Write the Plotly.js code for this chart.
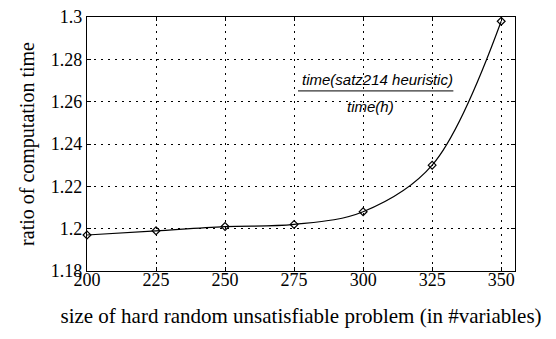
<!DOCTYPE html>
<html>
<head>
<meta charset="utf-8">
<script src="https://cdn.plot.ly/plotly-3.0.1.min.js"></script>
<style>
html,body{margin:0;padding:0;background:#fff;}
#chart{width:556px;height:339px;}
</style>
</head>
<body>
<div id="chart"></div>
<script>
const problemSize = [200, 225, 250, 275, 300, 325, 350];
const timeRatio = [1.197, 1.199, 1.201, 1.202, 1.208, 1.230, 1.298];
const xTicks = [200, 225, 250, 275, 300, 325, 350];
const yTicks = [1.18, 1.2, 1.22, 1.24, 1.26, 1.28, 1.3];
const yTickLabels = ['1.18', '1.2', '1.22', '1.24', '1.26', '1.28', '1.3'];

const serif = 'Times New Roman';
const sans = 'Arial';
const trace = {
  x: problemSize, y: timeRatio, type: 'scatter', mode: 'lines+markers',
  line: {color: '#000', width: 1.2, shape: 'spline', smoothing: 1},
  marker: {symbol: 'diamond-open', size: 6, color: '#000', line: {width: 1.2, color: '#000'}},
  showlegend: false, cliponaxis: false
};
function axisCommon() {
  return {
    showline: true, linecolor: '#000', linewidth: 1.2, mirror: 'ticks',
    ticks: 'inside', ticklen: 4, tickcolor: '#000', tickwidth: 1,
    showgrid: true, gridcolor: '#000', griddash: '1.5px,5.5px', gridwidth: 1,
    zeroline: false, automargin: false,
    tickfont: {family: 'Liberation Serif', size: 18, color: '#000'}
  };
}
const layout = {
  width: 556, height: 339,
  margin: {l: 87, r: 41, t: 17, b: 68},
  paper_bgcolor: '#fff', plot_bgcolor: '#fff',
  font: {family: serif, color: '#000'},
  xaxis: Object.assign(axisCommon(), {
    range: [200, 355], tickvals: xTicks, ticktext: xTicks.map(String), ticklabelstandoff: -8,
    title: {text: 'size of hard random unsatisfiable problem (in #variables)', font: {family: serif, size: 21, color: '#000'}, standoff: 19}
  }),
  yaxis: Object.assign(axisCommon(), {
    range: [1.18, 1.3], tickvals: yTicks, ticktext: yTickLabels,
    title: {text: 'ratio of computation time', font: {family: serif, size: 20, color: '#000'}, standoff: 10}
  }),
  shapes: [{type: 'line', xref: 'paper', yref: 'paper', x0: 0.493, x1: 0.856, y0: 0.709, y1: 0.709, line: {color: '#000', width: 1}}],
  annotations: [
    {xref: 'paper', yref: 'paper', x: 0.678, y: 0.752, xanchor: 'center', yanchor: 'middle', text: '<i>time(satz214 heuristic)</i>', showarrow: false, font: {family: sans, size: 15, color: '#000'}},
    {xref: 'paper', yref: 'paper', x: 0.662, y: 0.647, xanchor: 'center', yanchor: 'middle', text: '<i>time(h)</i>', showarrow: false, font: {family: sans, size: 15, color: '#000'}}
  ]
};
Plotly.newPlot('chart', [trace], layout, {displayModeBar: false, staticPlot: true});
</script>
</body>
</html>
